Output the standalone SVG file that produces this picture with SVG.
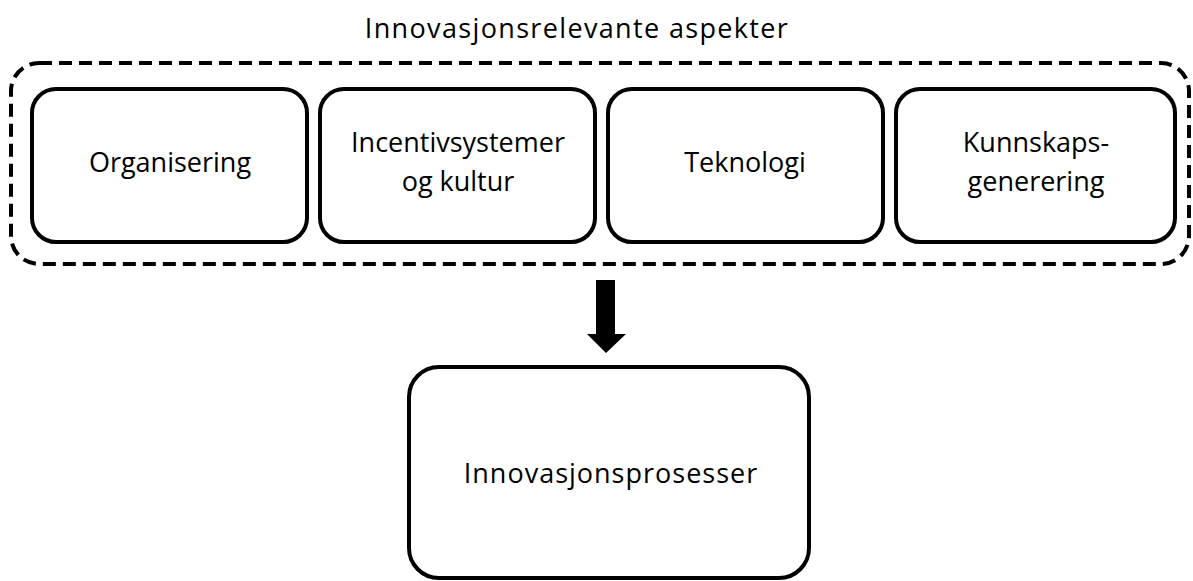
<svg xmlns="http://www.w3.org/2000/svg" width="1193" height="581" viewBox="0 0 1193 581">
<style>
.box{fill:#fff;stroke:#000;stroke-width:4}
.outer{fill:none;stroke:#000;stroke-width:4;stroke-dasharray:13 7}
.t{font-family:"Open Sans","Liberation Sans",sans-serif;font-size:27px;font-weight:500;fill:#000;text-anchor:middle}
.title{letter-spacing:1.35px}
.big{letter-spacing:1px}
</style>
<rect width="1193" height="581" fill="#fff"/>
<text class="t title" x="577" y="38">Innovasjonsrelevante aspekter</text>
<g id="group">
<rect class="outer" x="11" y="63" width="1178" height="201" rx="28"/>
</g>
<g id="organisering">
<rect class="box" x="32" y="89" width="275" height="153" rx="24"/>
<text class="t" x="170" y="172">Organisering</text>
</g>
<g id="incentiv">
<rect class="box" x="320" y="89" width="275" height="153" rx="24"/>
<text class="t" x="458" y="152">Incentivsystemer</text>
<text class="t" x="458" y="191">og kultur</text>
</g>
<g id="teknologi">
<rect class="box" x="608" y="89" width="275" height="153" rx="24"/>
<text class="t" x="745" y="172">Teknologi</text>
</g>
<g id="kunnskap">
<rect class="box" x="896" y="89" width="279" height="153" rx="24"/>
<text class="t" x="1036" y="152">Kunnskaps-</text>
<text class="t" x="1036" y="191">generering</text>
</g>
<g id="prosesser">
<rect class="box" x="409" y="367" width="400" height="211" rx="30"/>
<text class="t big" x="611" y="483">Innovasjonsprosesser</text>
</g>
<g id="connectors">
<polygon points="596,280 615,280 615,334 626,334 606,353 587,334 596,334" fill="#000"/>
</g>
</svg>
